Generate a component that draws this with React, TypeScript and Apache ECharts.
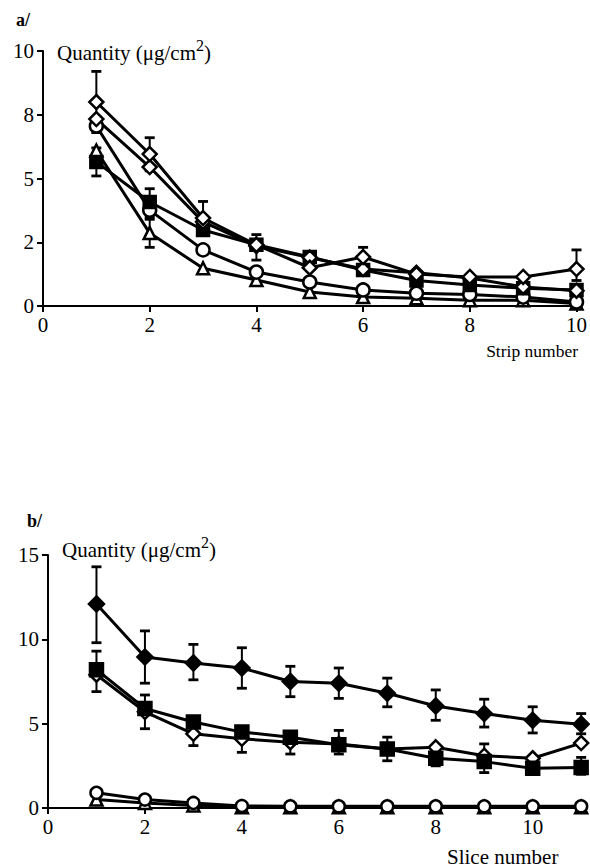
import React, { useEffect, useRef } from 'react';
import * as echarts from 'echarts';

// ---------- Panel a (strip number) ----------
const stripNumbers = [1, 2, 3, 4, 5, 6, 7, 8, 9, 10];
const aDiamondOpen1 = [8.0, 5.96, 3.45, 2.4, 1.5, 1.92, 1.25, 1.14, 1.14, 1.45];
const aDiamondOpen2 = [7.33, 5.45, 3.3, 2.35, 1.9, 1.45, 1.3, 1.1, 0.75, 0.6];
const aSquare = [5.65, 4.08, 2.98, 2.4, 1.92, 1.41, 1.0, 0.82, 0.7, 0.63];
const aCircle = [7.06, 3.76, 2.2, 1.33, 0.94, 0.63, 0.5, 0.45, 0.35, 0.16];
const aTriangle = [6.1, 2.86, 1.48, 1.02, 0.55, 0.35, 0.3, 0.23, 0.23, 0.1];
const aErrX = [1, 1, 2, 2, 2, 3, 4, 6, 10];
const aErrLow = [6.8, 5.1, 5.3, 3.5, 2.3, 2.8, 1.8, 1.5, 1.0];
const aErrHigh = [9.2, 6.2, 6.6, 4.6, 3.4, 4.1, 2.8, 2.3, 2.2];
const aYTickLabels = ['0', '2', '5', '8', '10'];
const aXTickLabels = ['0', '2', '4', '6', '8', '10'];

// ---------- Panel b (slice number) ----------
const sliceNumbers = [1, 2, 3, 4, 5, 6, 7, 8, 9, 10, 11];
const bDiamondFilled = [12.1, 8.95, 8.6, 8.3, 7.5, 7.4, 6.8, 6.05, 5.6, 5.2, 4.97];
const bSquare = [8.2, 5.9, 5.1, 4.5, 4.2, 3.75, 3.5, 2.95, 2.75, 2.35, 2.4];
const bDiamondOpen = [7.9, 5.7, 4.4, 4.1, 3.9, 3.8, 3.5, 3.6, 3.1, 2.95, 3.85];
const bCircle = [0.9, 0.5, 0.3, 0.12, 0.1, 0.1, 0.1, 0.1, 0.1, 0.1, 0.1];
const bTriangle = [0.5, 0.3, 0.15, 0.05, 0.05, 0.05, 0.05, 0.05, 0.05, 0.05, 0.05];
const bErrX = [1, 2, 3, 4, 5, 6, 7, 8, 9, 10, 11, 1, 2, 3, 4, 5, 6, 7, 8, 9, 11];
const bErrLow = [9.8, 7.4, 7.6, 7.1, 6.6, 6.5, 6.0, 5.2, 4.8, 4.45, 4.4, 6.9, 4.7, 3.7, 3.3, 3.2, 3.2, 2.8, 2.5, 2.1, 2.0];
const bErrHigh = [14.3, 10.5, 9.7, 9.5, 8.4, 8.3, 7.7, 7.0, 6.45, 6.0, 5.6, 9.3, 6.7, 5.3, 4.8, 4.5, 4.6, 4.2, 3.4, 3.8, 3.0];
const bXTickLabels = ['0', '2', '4', '6', '8', '10'];

const FONT = "'Liberation Serif', 'DejaVu Serif', serif";
const BLACK = '#000';

function pairs(xs: number[], ys: number[]) {
  return xs.map((x, i) => [x, ys[i]]);
}
function triples(xs: number[], lo: number[], hi: number[]) {
  return xs.map((x, i) => [x, lo[i], hi[i]]);
}

function lineSeries(idx: number, xs: number[], ys: number[], symbol: string, filled: boolean, size: number) {
  return {
    type: 'line',
    xAxisIndex: idx,
    yAxisIndex: idx,
    data: pairs(xs, ys),
    symbol,
    symbolSize: size,
    showAllSymbol: true,
    z: 3,
    lineStyle: { color: BLACK, width: 3 },
    itemStyle: { color: filled ? BLACK : '#fff', borderColor: BLACK, borderWidth: 2.5, opacity: 1 },
    emphasis: { disabled: true },
  };
}

function errSeries(idx: number, data: number[][]) {
  return {
    type: 'custom',
    xAxisIndex: idx,
    yAxisIndex: idx,
    z: 2,
    data,
    encode: { x: 0, y: [1, 2] },
    renderItem: (params: any, api: any) => {
      const x = api.value(0);
      const lo = api.coord([x, api.value(1)]);
      const hi = api.coord([x, api.value(2)]);
      const w = 5;
      return {
        type: 'group',
        children: [
          { type: 'line', shape: { x1: hi[0], y1: hi[1], x2: lo[0], y2: lo[1] }, style: { stroke: BLACK, lineWidth: 2 } },
          { type: 'line', shape: { x1: hi[0] - w, y1: hi[1], x2: hi[0] + w, y2: hi[1] }, style: { stroke: BLACK, lineWidth: 2.8 } },
          { type: 'line', shape: { x1: lo[0] - w, y1: lo[1], x2: lo[0] + w, y2: lo[1] }, style: { stroke: BLACK, lineWidth: 2.8 } },
        ],
      };
    },
  };
}

const axisCommon = {
  axisLine: { show: true, onZero: false, lineStyle: { color: BLACK, width: 2 } },
  axisTick: { show: true, inside: false, length: 6, lineStyle: { color: BLACK, width: 2 } },
  splitLine: { show: false },
  axisLabel: { color: BLACK, fontFamily: FONT, fontSize: 21, margin: 8 },
};

const quantityRich = {
  m: { fontFamily: FONT, fontSize: 21, fill: BLACK, lineHeight: 26, verticalAlign: 'bottom' },
  s: { fontFamily: FONT, fontSize: 16, fill: BLACK, lineHeight: 26, verticalAlign: 'top' },
};

const option: any = {
  animation: false,
  backgroundColor: '#fff',
  grid: [
    { left: 43, right: 12, top: 51, bottom: 561, containLabel: false },
    { left: 48, right: 4, top: 555, bottom: 59, containLabel: false },
  ],
  xAxis: [
    {
      ...axisCommon,
      gridIndex: 0,
      type: 'value',
      min: 0,
      max: 10,
      interval: 2,
      axisLabel: { ...axisCommon.axisLabel, formatter: (v: number) => aXTickLabels[Math.round(v / 2)] ?? '' },
    },
    {
      ...axisCommon,
      gridIndex: 1,
      type: 'value',
      min: 0,
      max: 11.1,
      interval: 2,
      axisLabel: { ...axisCommon.axisLabel, showMaxLabel: false, formatter: (v: number) => bXTickLabels[Math.round(v / 2)] ?? '' },
    },
  ],
  yAxis: [
    {
      ...axisCommon,
      gridIndex: 0,
      type: 'value',
      min: 0,
      max: 10,
      interval: 2.5,
      axisLabel: { ...axisCommon.axisLabel, margin: 9, formatter: (v: number) => aYTickLabels[Math.round(v / 2.5)] ?? '' },
    },
    {
      ...axisCommon,
      gridIndex: 1,
      type: 'value',
      min: 0,
      max: 15,
      interval: 5,
      axisLabel: { ...axisCommon.axisLabel, margin: 9 },
    },
  ],
  series: [
    errSeries(0, triples(aErrX, aErrLow, aErrHigh)),
    lineSeries(0, stripNumbers, aTriangle, 'triangle', false, 12),
    lineSeries(0, stripNumbers, aCircle, 'circle', false, 13),
    lineSeries(0, stripNumbers, aSquare, 'rect', true, 12),
    lineSeries(0, stripNumbers, aDiamondOpen2, 'diamond', false, 14),
    lineSeries(0, stripNumbers, aDiamondOpen1, 'diamond', false, 14),
    errSeries(1, triples(bErrX, bErrLow, bErrHigh)),
    lineSeries(1, sliceNumbers, bTriangle, 'triangle', false, 12),
    lineSeries(1, sliceNumbers, bCircle, 'circle', false, 12),
    lineSeries(1, sliceNumbers, bDiamondOpen, 'diamond', false, 14),
    lineSeries(1, sliceNumbers, bSquare, 'rect', true, 13),
    lineSeries(1, sliceNumbers, bDiamondFilled, 'diamond', true, 15),
  ],
  graphic: [
    { type: 'text', left: 16, top: 11, style: { text: 'a/', fontFamily: FONT, fontSize: 18, fontWeight: 'bold', fill: BLACK } },
    { type: 'text', left: 57, top: 37, style: { text: '{m|Quantity (μg/cm}{s|2}{m|)}', rich: quantityRich } },
    { type: 'text', right: 12, top: 342, style: { text: 'Strip number', fontFamily: FONT, fontSize: 17.5, fill: BLACK } },
    { type: 'text', left: 27, top: 512, style: { text: 'b/', fontFamily: FONT, fontSize: 18, fontWeight: 'bold', fill: BLACK } },
    { type: 'text', left: 62, top: 534, style: { text: '{m|Quantity (μg/cm}{s|2}{m|)}', rich: quantityRich } },
    { type: 'text', left: 447, top: 846, style: { text: 'Slice number', fontFamily: FONT, fontSize: 21, fill: BLACK } },
  ],
};

export default function App() {
  const ref = useRef<HTMLDivElement>(null);
  useEffect(() => {
    const chart = echarts.init(ref.current!, null, { renderer: 'svg' });
    chart.setOption(option);
    return () => chart.dispose();
  }, []);
  return <div ref={ref} style={{ position: 'fixed', left: 0, top: 0, width: 590, height: 867, background: '#fff' }} />;
}
